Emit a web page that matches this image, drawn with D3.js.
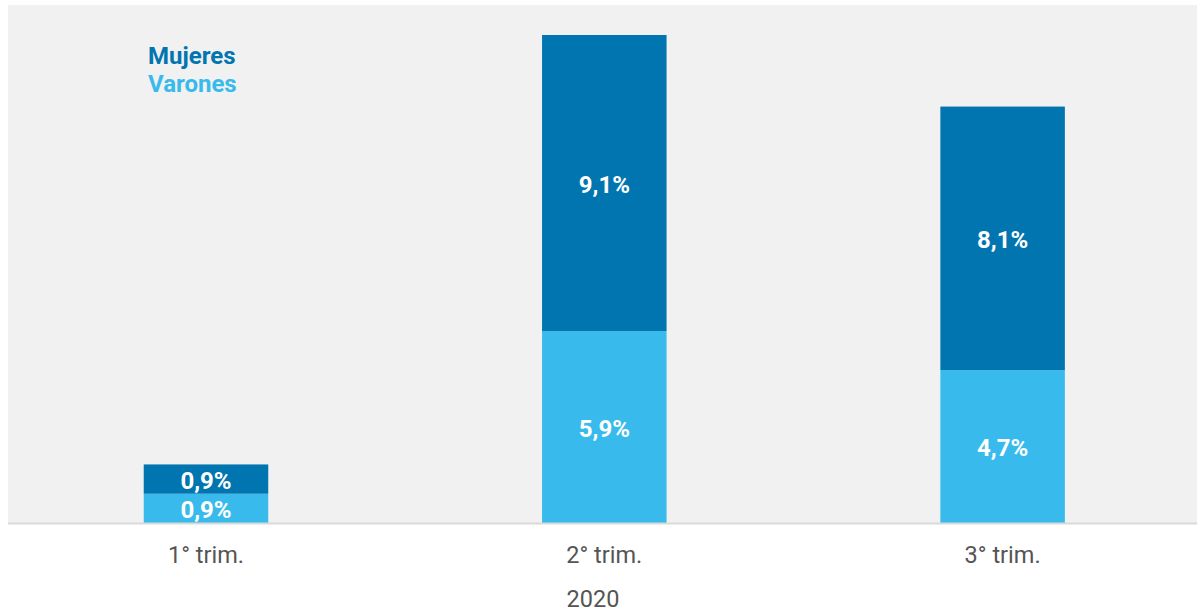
<!DOCTYPE html>
<html><head><meta charset="utf-8">
<script src="https://cdn.jsdelivr.net/npm/d3@7"></script>
<style>body{margin:0;background:#fff;font-family:Roboto,sans-serif}</style>
</head><body><svg id="c" width="1198" height="613"></svg>
<script>
const categories = ["1° trim.", "2° trim.", "3° trim."];
const varones = [0.9, 5.9, 4.7];
const mujeres = [0.9, 9.1, 8.1];
const seriesNames = ["Varones", "Mujeres"];
const yearLabel = "2020";

const colors = {Varones: "#38bbec", Mujeres: "#0075b0"};
const svg = d3.select("#c");
const panel = {x0: 8, x1: 1197, y0: 5, y1: 523};

svg.append("rect").attr("x", panel.x0).attr("y", panel.y0)
  .attr("width", panel.x1 - panel.x0).attr("height", panel.y1 - panel.y0).attr("fill", "#f1f1f1");

const x = d3.scaleBand().domain(categories).range([8.3, 1200.3]).paddingInner(0.6874).paddingOuter(0.34);
const y = d3.scaleLinear().domain([0, 15]).range([panel.y1, 35]);

const data = categories.map((c, i) => ({cat: c, Varones: varones[i], Mujeres: mujeres[i]}));
const stack = d3.stack().keys(seriesNames)(data);

const fmt = v => d3.format(".1f")(v).replace(".", ",") + "%";

stack.forEach(layer => {
  const g = svg.append("g");
  g.selectAll("rect").data(layer).join("rect")
    .attr("x", d => x(d.data.cat)).attr("width", x.bandwidth())
    .attr("y", d => y(d[1])).attr("height", d => y(d[0]) - y(d[1]))
    .attr("fill", colors[layer.key]);
  g.selectAll("text").data(layer).join("text")
    .attr("x", d => x(d.data.cat) + x.bandwidth() / 2)
    .attr("y", d => (y(d[0]) + y(d[1])) / 2)
    .attr("dy", "0.4em").attr("text-anchor", "middle")
    .attr("fill", "#fff").attr("font-weight", "bold").attr("font-size", 24)
    .text(d => fmt(d.data[layer.key]));
});

// baseline
svg.append("line").attr("x1", panel.x0).attr("x2", panel.x1).attr("y1", panel.y1 + 0.5).attr("y2", panel.y1 + 0.5)
  .attr("stroke", "#d9d9d9").attr("stroke-width", 2);

const ax = svg.append("g").attr("transform", `translate(0,${panel.y1})`)
  .call(d3.axisBottom(x).tickSize(0).tickPadding(23));
ax.select(".domain").remove();
ax.selectAll("text").attr("font-family", "Roboto,sans-serif").attr("font-size", 23.5).attr("fill", "#555");

svg.append("text").attr("x", 593).attr("y", 607)
  .attr("text-anchor", "middle").attr("font-size", 23.5).attr("fill", "#555").text(yearLabel);

// legend
const leg = ["Mujeres", "Varones"];
svg.selectAll(".leg").data(leg).join("text").attr("class", "leg")
  .attr("x", 148).attr("y", (d, i) => 64 + i * 28)
  .attr("font-size", 24).attr("font-weight", "bold")
  .attr("fill", d => colors[d]).text(d => d);
</script></body></html>
